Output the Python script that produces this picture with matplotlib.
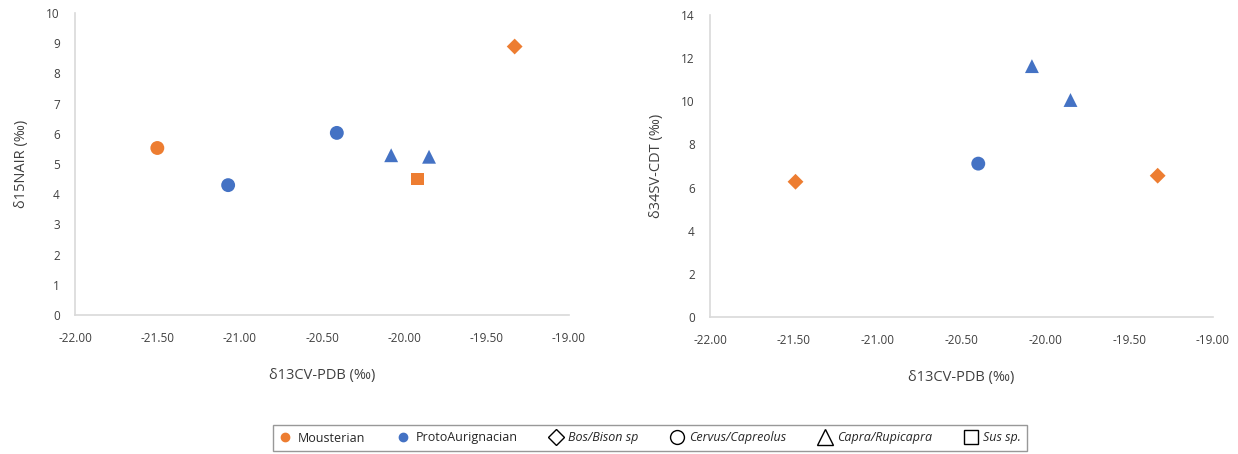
import matplotlib.pyplot as plt
from matplotlib.lines import Line2D

plt.rcParams['font.family'] = ['Open Sans', 'DejaVu Sans']

ORANGE = '#ED7D31'
BLUE = '#4472C4'

# left panel: d13C vs d15N
n_x = [-21.50, -21.07, -20.41, -20.08, -19.85, -19.92, -19.33]
n_y = [5.53, 4.30, 6.03, 5.29, 5.24, 4.50, 8.89]
n_culture = ['M', 'P', 'P', 'P', 'P', 'M', 'M']
n_taxon = ['o', 'o', 'o', '^', '^', 's', 'D']

# right panel: d13C vs d34S
s_x = [-21.49, -20.40, -20.08, -19.85, -19.33]
s_y = [6.27, 7.11, 11.63, 10.06, 6.55]
s_culture = ['M', 'P', 'P', 'P', 'M']
s_taxon = ['D', 'o', '^', '^', 'D']

colors = {'M': ORANGE, 'P': BLUE}
sizes = {'o': 100, '^': 100, 's': 80, 'D': 65}

W, H = 1238, 454
fig = plt.figure(figsize=(W / 100, H / 100), dpi=100)
ax1 = fig.add_axes([75 / W, 1 - 315 / H, 494 / W, 302 / H])
ax2 = fig.add_axes([710 / W, 1 - 317 / H, 503 / W, 302 / H])


def panel(ax, xs, ys, cult, tax, ymax, ystep, ylabel):
    for x, y, c, m in zip(xs, ys, cult, tax):
        ax.scatter(x, y, marker=m, s=sizes[m], color=colors[c], edgecolors='none', zorder=3)
    ax.set_xlim(-22, -19)
    ax.set_ylim(0, ymax)
    ax.set_xticks([-22 + 0.5 * i for i in range(7)])
    ax.set_xticklabels(['%.2f' % (-22 + 0.5 * i) for i in range(7)])
    ax.set_yticks(range(0, ymax + 1, ystep))
    ax.tick_params(length=0, labelsize=8.5, colors='#404040')
    ax.tick_params(axis='x', pad=12)
    ax.tick_params(axis='y', pad=11)
    for sp in ['top', 'right']:
        ax.spines[sp].set_visible(False)
    for sp in ['left', 'bottom']:
        ax.spines[sp].set_color('#d9d9d9')
        ax.spines[sp].set_linewidth(1.2)
    ax.set_xlabel('δ13CV-PDB (‰)', fontsize=10.5, color='#404040', labelpad=17)
    ax.set_ylabel(ylabel, fontsize=10.5, color='#404040', labelpad=12)


panel(ax1, n_x, n_y, n_culture, n_taxon, 10, 1, 'δ15NAIR (‰)')
panel(ax2, s_x, s_y, s_culture, s_taxon, 14, 2, 'δ34SV-CDT (‰)')

handles = [
    Line2D([], [], ls='none', marker='o', ms=6, color=ORANGE),
    Line2D([], [], ls='none', marker='o', ms=6, color=BLUE),
    Line2D([], [], ls='none', marker='D', ms=8, mfc='white', mec='black'),
    Line2D([], [], ls='none', marker='o', ms=10, mfc='white', mec='black'),
    Line2D([], [], ls='none', marker='^', ms=11, mfc='white', mec='black'),
    Line2D([], [], ls='none', marker='s', ms=10, mfc='white', mec='black'),
]
labels = ['Mousterian', 'ProtoAurignacian', 'Bos/Bison sp', 'Cervus/Capreolus',
          'Capra/Rupicapra', 'Sus sp.']
leg = fig.legend(handles, labels, loc='center', bbox_to_anchor=(650 / W, 1 - 438 / H),
                 ncol=6, fontsize=9, frameon=True, fancybox=False, edgecolor='#7f7f7f',
                 handlelength=1.0, handletextpad=0.5, columnspacing=2.55, borderpad=0.5)
leg.get_frame().set_linewidth(1.0)
for t in leg.get_texts()[2:]:
    t.set_style('italic')
for t in leg.get_texts():
    t.set_color('#262626')

fig.savefig('out.png', dpi=100)
